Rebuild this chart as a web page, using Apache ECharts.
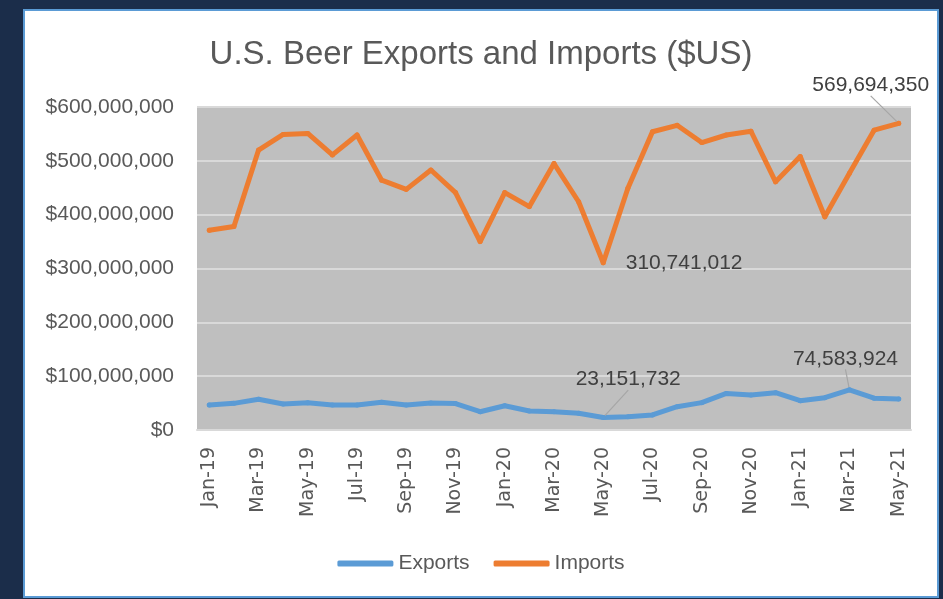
<!DOCTYPE html>
<html>
<head>
<meta charset="utf-8">
<script src="https://cdn.jsdelivr.net/npm/echarts@6/dist/echarts.min.js"></script>
<style>
html, body { margin: 0; padding: 0; background: #1b2d4a; width: 943px; height: 599px; overflow: hidden; }
#chart { position: absolute; left: 23px; top: 9px; width: 912px; height: 585px; border: 2px solid #5b9bd5; background: #fff; }
</style>
</head>
<body>
<div id="chart"></div>
<script>
// 月份
var months = ['Jan-19','Feb-19','Mar-19','Apr-19','May-19','Jun-19','Jul-19','Aug-19','Sep-19','Oct-19','Nov-19','Dec-19',
	'Jan-20','Feb-20','Mar-20','Apr-20','May-20','Jun-20','Jul-20','Aug-20','Sep-20','Oct-20','Nov-20','Dec-20',
	'Jan-21','Feb-21','Mar-21','Apr-21','May-21'];
// 出口
var exports_val = [46400000, 49500000, 57000000, 48300000, 50800000, 46400000, 46400000, 51400000, 46400000, 50000000, 49000000, 34000000,
	45000000, 35300000, 34000000, 31000000, 23151732, 24800000, 27900000, 43300000, 50800000, 68000000, 65000000, 69300000,
	54500000, 60000000, 74583924, 59000000, 57600000];
// 进口
var imports_val = [371000000, 378000000, 520000000, 549000000, 551000000, 511000000, 548000000, 464000000, 447000000, 483000000, 441000000, 350000000,
	441000000, 415000000, 495000000, 424000000, 310741012, 449000000, 554000000, 566000000, 534000000, 548000000, 555000000, 461000000,
	508000000, 396000000, 477000000, 557000000, 569694350];
var yTicks = [0, 100000000, 200000000, 300000000, 400000000, 500000000, 600000000];
// 标注的点
var exportsLabeled = [16, 26];
var importsLabeled = [16, 28];

function commas(v) {
	return String(Math.round(v)).replace(/\B(?=(\d{3})+(?!\d))/g, ',');
}

function buildData(vals, labeled, rightIdx) {
	var out = [];
	for (var i = 0; i < vals.length; i++) {
		if (labeled.indexOf(i) >= 0) {
			if (i === rightIdx) {
				out.push({ value: vals[i], label: { show: true, position: 'right', distance: 20 }, labelLine: { show: false } });
			} else {
				out.push({ value: vals[i], label: { show: true, position: 'top' }, labelLine: { show: true } });
			}
		} else {
			out.push(vals[i]);
		}
	}
	return out;
}

var labelText = {
	fontFamily: 'Liberation Sans',
	fontSize: 21,
	color: '#404040',
	formatter: function(p) { return commas(p.value); }
};

var option = {
	animation: false,
	title: {
		text: 'U.S. Beer Exports and Imports ($US)',
		left: 'center',
		top: 22,
		textStyle: { fontFamily: 'Liberation Sans', fontSize: 33, fontWeight: 'normal', color: '#595959' }
	},
	legend: {
		data: ['Exports', 'Imports'],
		left: 'center',
		top: 537,
		icon: 'roundRect',
		itemWidth: 56,
		itemHeight: 6,
		itemGap: 24,
		textStyle: { fontFamily: 'Liberation Sans', fontSize: 21, color: '#595959' }
	},
	grid: {
		left: 172,
		right: 26,
		top: 96,
		bottom: 166,
		show: true,
		backgroundColor: '#bfbfbf',
		borderWidth: 0
	},
	xAxis: {
		type: 'category',
		data: months,
		boundaryGap: true,
		axisLine: { show: true, lineStyle: { color: '#d9d9d9', width: 2 } },
		axisTick: { show: false },
		axisLabel: {
			interval: 1,
			rotate: 90,
			margin: 17,
			fontFamily: 'DejaVu Sans',
			fontSize: 19,
			color: '#595959'
		}
	},
	yAxis: {
		type: 'value',
		min: yTicks[0],
		max: yTicks[yTicks.length - 1],
		interval: yTicks[1] - yTicks[0],
		axisLine: { show: false },
		axisTick: { show: false },
		splitLine: { lineStyle: { color: '#d9d9d9', width: 2 } },
		axisLabel: {
			margin: 23,
			fontFamily: 'Liberation Sans',
			fontSize: 21,
			color: '#595959',
			formatter: function(v) { return '$' + commas(v); }
		}
	},
	series: [{
		name: 'Exports',
		type: 'line',
		data: buildData(exports_val, exportsLabeled, -1),
		symbol: 'circle',
		symbolSize: 5,
		itemStyle: { color: '#5b9bd5' },
		lineStyle: { color: '#5b9bd5', width: 5, cap: 'round', join: 'round' },
		label: labelText,
		labelLine: { show: false, lineStyle: { color: '#a6a6a6', width: 1.2 } },
		labelLayout: function(p) {
			if (p.dataIndex === 16) return { dx: 25, dy: -20 };
			if (p.dataIndex === 26) return { dx: -4, dy: -13 };
			return {};
		}
	}, {
		name: 'Imports',
		type: 'line',
		data: buildData(imports_val, importsLabeled, 16),
		symbol: 'circle',
		symbolSize: 5,
		itemStyle: { color: '#ed7d31' },
		lineStyle: { color: '#ed7d31', width: 5, cap: 'round', join: 'round' },
		label: labelText,
		labelLine: { show: false, lineStyle: { color: '#a6a6a6', width: 1.2 } },
		labelLayout: function(p) {
			if (p.dataIndex === 28) return { dx: -28, dy: -20 };
			return {};
		}
	}]
};

var myChart = echarts.init(document.getElementById('chart'));
myChart.setOption(option);
</script>
</body>
</html>
